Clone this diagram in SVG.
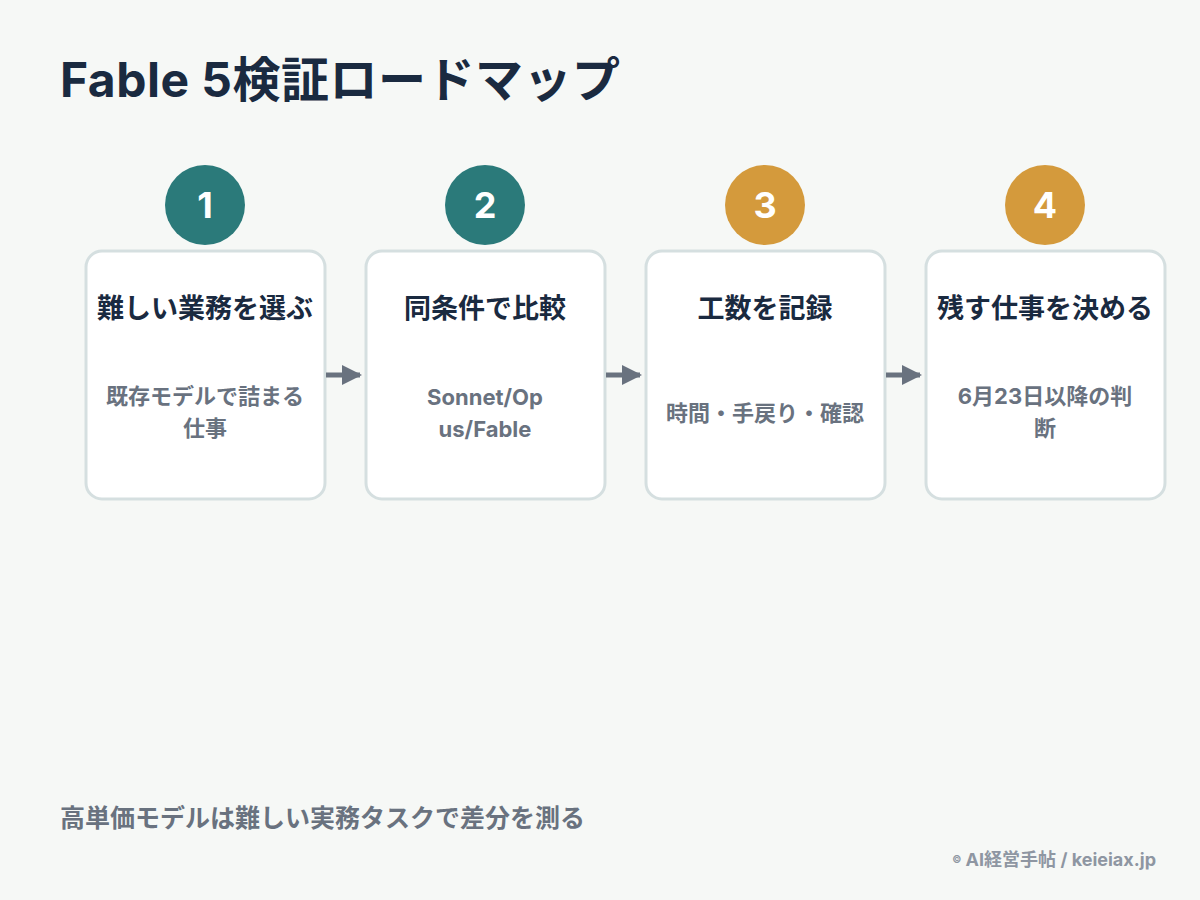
<svg xmlns="http://www.w3.org/2000/svg" width="1200" height="900" viewBox="0 0 1200 900">
<style>
text{font-family:Inter,"Noto Sans CJK JP",sans-serif;font-weight:700}
.box{fill:#fff;stroke:#d5dfe0;stroke-width:3}
.t{fill:#1a2a40;font-size:27px;text-anchor:middle}
.s{fill:#69727f;font-size:22px;text-anchor:middle}
.n{fill:#fff;font-size:36px;text-anchor:middle}
.c{stroke:#69727f;stroke-width:5}
</style>
<defs><marker id="a" viewBox="0 0 10 10" refX="9" refY="5" markerWidth="4" markerHeight="5.5" markerUnits="strokeWidth" orient="auto"><path d="M0 0L10 5L0 10z" fill="#69727f"/></marker></defs>
<rect width="1200" height="900" fill="#f6f8f6"/>
<text x="60" y="97" font-size="48" fill="#1a2a40" textLength="560">Fable 5検証ロードマップ</text>
<g id="n1"><circle cx="205" cy="205" r="40" fill="#2b7a7a"/><text class="n" x="205" y="218">1</text><rect class="box" x="86" y="251" width="239" height="248" rx="16"/><text class="t" x="205" y="318">難しい業務を選ぶ</text><text class="s" x="205" y="404">既存モデルで詰まる</text><text class="s" x="205" y="436">仕事</text></g>
<g id="n2"><circle cx="485" cy="205" r="40" fill="#2b7a7a"/><text class="n" x="485" y="218">2</text><rect class="box" x="366" y="251" width="239" height="248" rx="16"/><text class="t" x="485" y="318">同条件で比較</text><text class="s" x="485" y="405" font-size="24">Sonnet/Op</text><text class="s" x="485" y="437" font-size="24">us/Fable</text></g>
<g id="n3"><circle cx="765" cy="205" r="40" fill="#d49a3c"/><text class="n" x="765" y="218">3</text><rect class="box" x="646" y="251" width="239" height="248" rx="16"/><text class="t" x="765" y="318">工数を記録</text><text class="s" x="765" y="421">時間・手戻り・確認</text></g>
<g id="n4"><circle cx="1045" cy="205" r="40" fill="#d49a3c"/><text class="n" x="1045" y="218">4</text><rect class="box" x="926" y="251" width="239" height="248" rx="16"/><text class="t" x="1045" y="318">残す仕事を決める</text><text class="s" x="1045" y="404">6月23日以降の判</text><text class="s" x="1045" y="436">断</text></g>
<g id="connectors"><line class="c" x1="326" y1="375" x2="360" y2="375" marker-end="url(#a)"/><line class="c" x1="606" y1="375" x2="640" y2="375" marker-end="url(#a)"/><line class="c" x1="886" y1="375" x2="920" y2="375" marker-end="url(#a)"/></g>
<text x="60" y="827" font-size="25" fill="#69727f">高単価モデルは難しい実務タスクで差分を測る</text>
<text x="1156" y="866" font-size="18" fill="#8e96a2" text-anchor="end"><tspan font-size="10" dy="-3">©</tspan><tspan dy="3"> AI経営手帖 / keieiax.jp</tspan></text>
</svg>
